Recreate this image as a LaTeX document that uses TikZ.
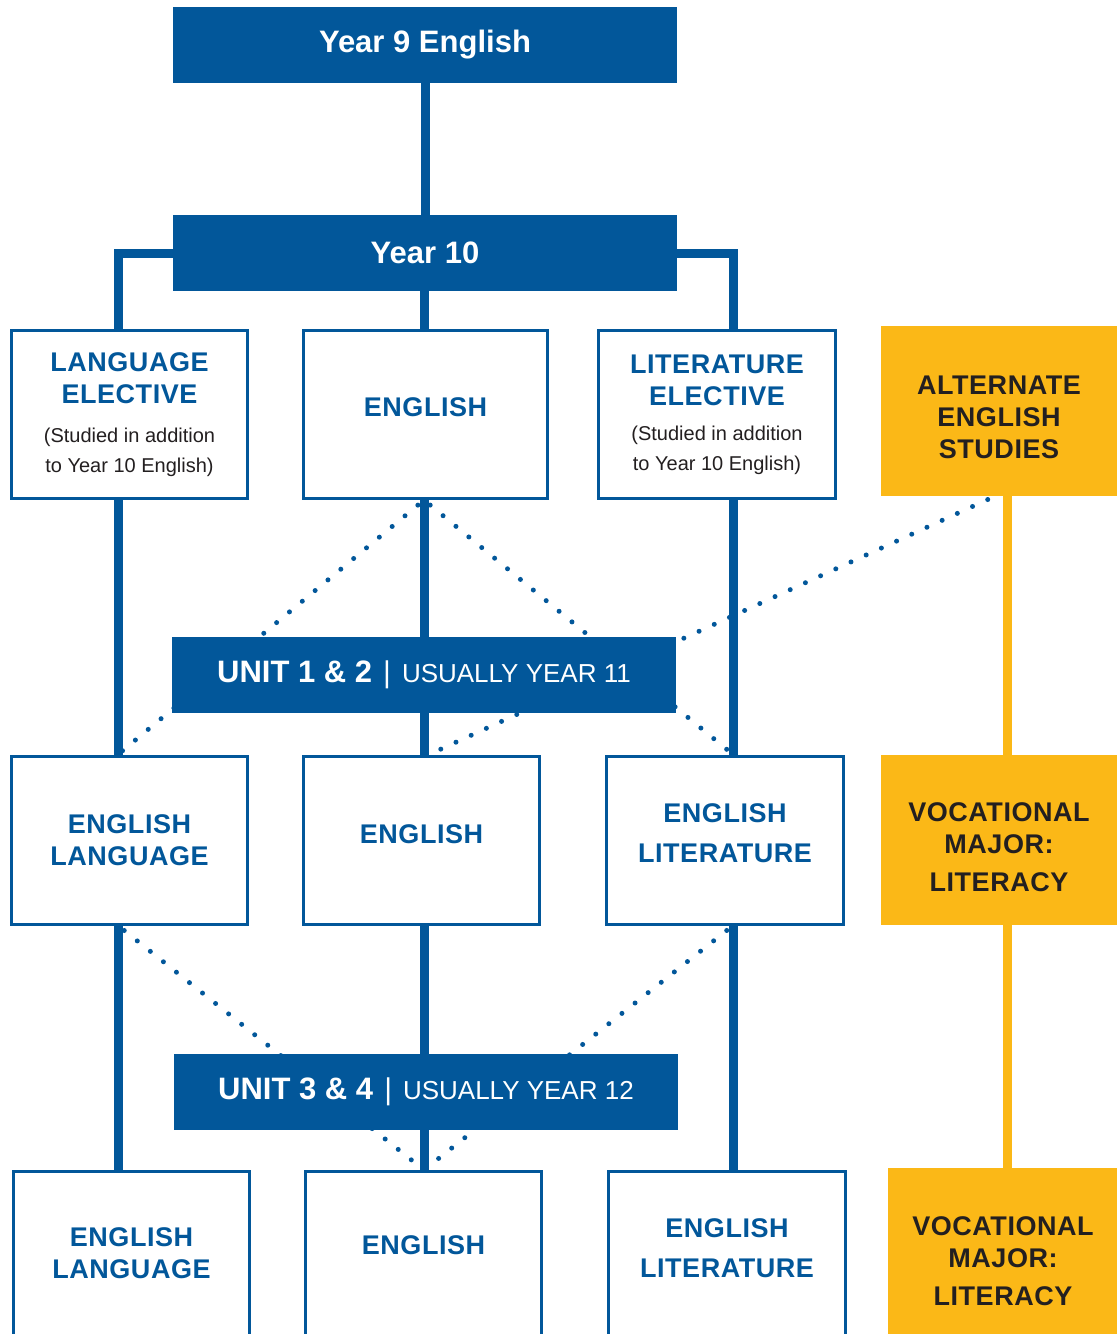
\documentclass[tikz,border=0pt]{standalone}
\usepackage{fontspec}
\setmainfont{Liberation Sans}
\usetikzlibrary{backgrounds}
\definecolor{vceblue}{HTML}{02579A}
\definecolor{vcegold}{HTML}{FBB817}
\definecolor{vceink}{HTML}{231F20}
\newcommand\lift[2]{\raisebox{#1}[\height][\depth]{\parbox{230pt}{\centering #2}}}

\begin{document}
\begin{tikzpicture}[x=1pt,y=-1pt,
    yearbox/.style={fill=vceblue,text=white,minimum width=504pt,minimum height=76pt,inner sep=0pt,
      font=\bfseries\fontsize{31}{36}\selectfont},
    unitbox/.style={fill=vceblue,text=white,minimum width=504pt,minimum height=76pt,inner sep=0pt,
      font=\fontsize{26}{32}\selectfont},
    subject/.style={draw=vceblue,line width=3pt,fill=white,text=vceblue,align=center,
      minimum width=236pt,minimum height=168pt,inner sep=0pt,
      font=\bfseries\fontsize{27}{32}\selectfont\addfontfeature{LetterSpace=2}},
    altsubject/.style={fill=vcegold,text=vceink,align=center,
      minimum width=236pt,minimum height=170pt,inner sep=0pt,
      font=\bfseries\fontsize{27}{32}\selectfont\addfontfeature{LetterSpace=2}},
    pathline/.style={draw=vceblue,line width=9pt},
    altline/.style={draw=vcegold,line width=9pt},
    option/.style={draw=vceblue,line width=5pt,line cap=round,dash pattern=on 0pt off 16.7pt,dash phase=-8pt}
  ]
    \useasboundingbox (0,0) rectangle (1117,1334);
    \clip (0,0) rectangle (1117,1334);

    % columns of the pathway
    \coordinate (colL) at (118,0);
    \coordinate (colM) at (424,0);
    \coordinate (colR) at (733,0);
    \coordinate (colY) at (1007,0);

    \node[yearbox] (year9) at (425,45) {Year 9 English};
    \node[yearbox] (year10) at (425,253) {Year 10};

    \node[subject] (langElec) at (129.5,414.5) {LANGUAGE\\ELECTIVE\\[7pt]
      {\normalfont\fontsize{20}{30}\selectfont\color{vceink}(Studied in addition}\\[-2pt]
      {\normalfont\fontsize{20}{30}\selectfont\color{vceink}to Year 10 English)}};
    \node[subject,minimum width=244pt] (eng10) at (425.5,414.5) {\lift{7pt}{ENGLISH}};
    \node[subject,minimum width=237pt] (litElec) at (717,414.5) {LITERATURE\\ELECTIVE\\[3pt]
      {\normalfont\fontsize{20}{30}\selectfont\color{vceink}(Studied in addition}\\[-2pt]
      {\normalfont\fontsize{20}{30}\selectfont\color{vceink}to Year 10 English)}};
    \node[altsubject] (altEng) at (999,411) {\lift{-6pt}{ALTERNATE\\ENGLISH\\STUDIES}};

    \node[unitbox] (unit12) at (424,675)
      {{\bfseries\fontsize{31}{36}\selectfont UNIT 1 \& 2}\hspace{11pt}{\fontsize{30}{36}\selectfont|}\hspace{11pt}USUALLY YEAR 11};

    \node[subject] (engLang11) at (129.5,840) {ENGLISH\\LANGUAGE};
    \node[subject] (eng11) at (421.5,840) {\lift{6pt}{ENGLISH}};
    \node[subject,minimum width=237pt] (engLit11) at (725,840) {\lift{7pt}{ENGLISH\\[8pt]LITERATURE}};
    \node[altsubject] (voc11) at (999,840) {\lift{-7pt}{VOCATIONAL\\MAJOR:\\[6pt]LITERACY}};

    \node[unitbox] (unit34) at (426,1092)
      {{\bfseries\fontsize{31}{36}\selectfont UNIT 3 \& 4}\hspace{11pt}{\fontsize{30}{36}\selectfont|}\hspace{11pt}USUALLY YEAR 12};

    \node[subject] (engLang12) at (131.5,1255.5) {\lift{2pt}{ENGLISH\\LANGUAGE}};
    \node[subject] (eng12) at (423.5,1255.5) {\lift{10pt}{ENGLISH}};
    \node[subject,minimum width=237pt] (engLit12) at (727,1255.5) {\lift{7pt}{ENGLISH\\[8pt]LITERATURE}};
    \node[altsubject,minimum width=228pt] (voc12) at (1003,1253) {\lift{-8pt}{VOCATIONAL\\MAJOR:\\[6pt]LITERACY}};

    \begin{pgfonlayer}{background}
      \draw[pathline] (year9) -- (year10);
      \draw[pathline] (year10.west) -| (langElec.north -| colL);
      \draw[pathline] (year10.south -| colM) -- (eng10.north -| colM);
      \draw[pathline] (year10.east) -| (litElec.north -| colR);

      \draw[pathline] (langElec.south -| colL) -- (engLang11.north -| colL);
      \draw[pathline] (eng10.south -| colM) -- (eng11.north -| colM);
      \draw[pathline] (litElec.south -| colR) -- (engLit11.north -| colR);
      \draw[altline] (altEng.south -| colY) -- (voc11.north -| colY);

      \draw[pathline] (engLang11.south -| colL) -- (engLang12.north -| colL);
      \draw[pathline] (eng11.south -| colM) -- (eng12.north -| colM);
      \draw[pathline] (engLit11.south -| colR) -- (engLit12.north -| colR);
      \draw[altline] (voc11.south -| colY) -- (voc12.north -| colY);

      % optional moves
      \draw[option] (eng10.south -| colM) -- (engLang11.north -| colL);
      \draw[option] (eng10.south -| colM) -- (engLit11.north -| colR);
      \draw[option] ([xshift=-12pt]altEng.south -| colY) -- ([xshift=5pt]eng11.north -| colM);
      \draw[option] (engLang11.south -| colL) -- (eng12.north -| colM);
      \draw[option] (engLit11.south -| colR) -- (eng12.north -| colM);
    \end{pgfonlayer}
\end{tikzpicture}
\end{document}
